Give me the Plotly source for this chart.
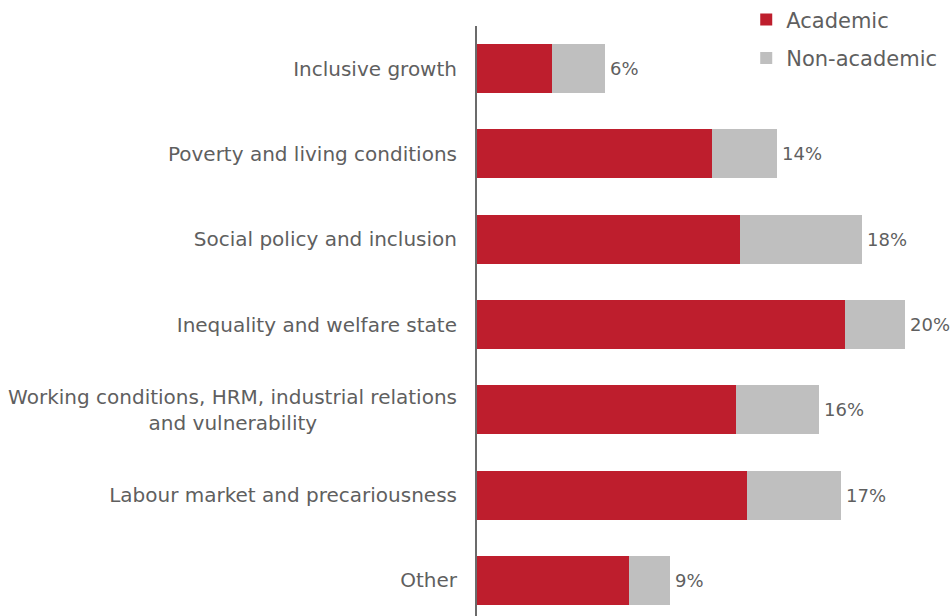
import plotly.graph_objects as go

# Share of outputs by topic (percent), split by audience
topics = [
    "Inclusive growth",
    "Poverty and living conditions",
    "Social policy and inclusion",
    "Inequality and welfare state",
    "Working conditions, HRM, industrial relations<br>and vulnerability" + "\u00a0" * 22,
    "Labour market and precariousness",
    "Other",
]
academic = [3.5, 11.0, 12.3, 17.2, 12.1, 12.6, 7.1]
non_academic = [2.5, 3.0, 5.7, 2.8, 3.9, 4.4, 1.9]
total_labels = ["6%", "14%", "18%", "20%", "16%", "17%", "9%"]

totals = [a + n for a, n in zip(academic, non_academic)]

RED = "#BE1E2D"
GREY = "#BFBFBF"
TEXT = "#5f5f5f"
FONT = "Century Gothic, DejaVu Sans, sans-serif"

fig = go.Figure()
fig.add_trace(go.Bar(
    y=topics, x=academic, orientation="h", name="Academic",
    marker=dict(color=RED, line=dict(width=0)), legendgroup="a",
))
fig.add_trace(go.Bar(
    y=topics, x=non_academic, orientation="h", name="Non-academic",
    marker=dict(color=GREY, line=dict(width=0)), legendgroup="b",
))

# Total share printed just past the end of each stacked bar
for topic, tot, lab in zip(topics, totals, total_labels):
    fig.add_annotation(
        x=tot, y=topic, text=lab, showarrow=False,
        xanchor="left", yanchor="middle", xshift=3,
        font=dict(size=18, color=TEXT, family=FONT),
    )

fig.update_layout(
    width=951, height=616,
    barmode="stack", bargap=0.425,
    plot_bgcolor="white", paper_bgcolor="white",
    margin=dict(l=477, r=0, t=26, b=0, autoexpand=False),
    font=dict(family=FONT, size=19, color=TEXT),
    legend=dict(
        x=0.568, y=1.045, xanchor="left", yanchor="top",
        traceorder="grouped", tracegroupgap=8,
        font=dict(size=21, color=TEXT), itemwidth=30,
        bgcolor="rgba(0,0,0,0)",
    ),
    showlegend=True,
)
fig.update_xaxes(
    range=[0, 22.15], showgrid=False, zeroline=False,
    showticklabels=False, showline=False, ticks="",
)
fig.update_yaxes(
    type="category", categoryorder="array", categoryarray=topics,
    range=[6.417, -0.5], showgrid=False, zeroline=False,
    showline=True, linecolor="#6b6b6b", linewidth=2,
    ticks="", ticklabelstandoff=14,
    tickfont=dict(size=20, color=TEXT, family=FONT),
)

fig.write_html("out.html")
